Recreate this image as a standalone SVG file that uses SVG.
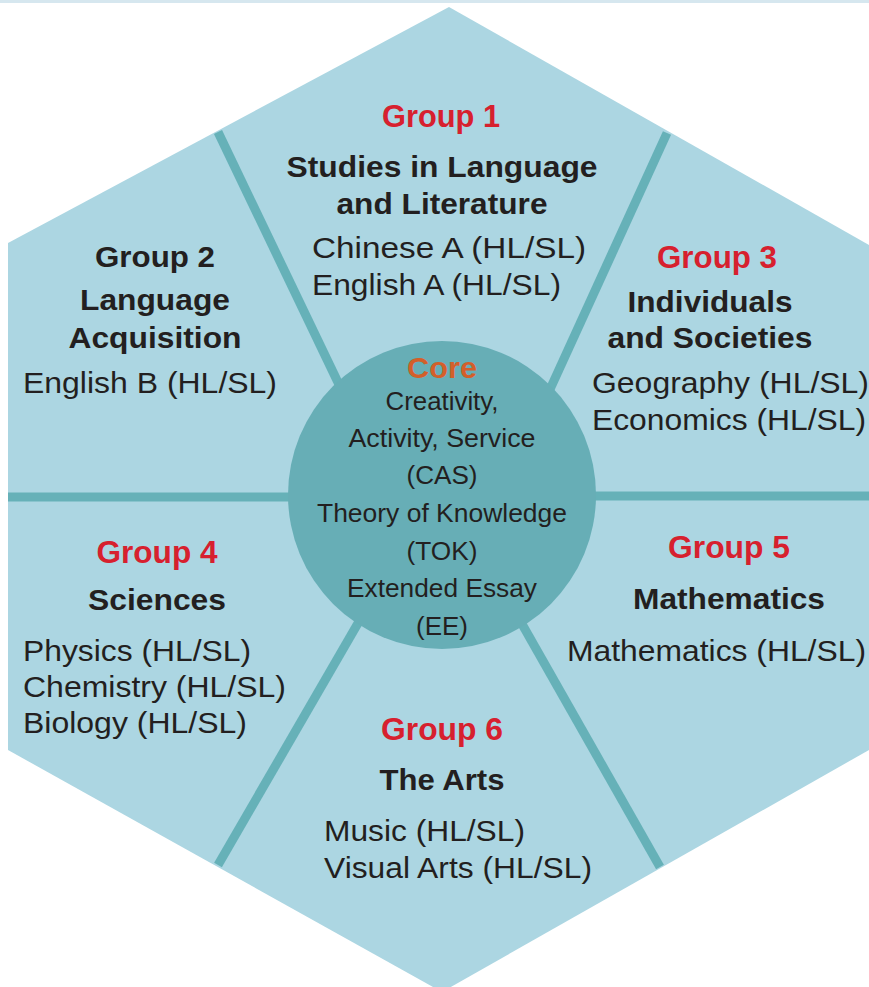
<svg xmlns="http://www.w3.org/2000/svg" width="869" height="987" viewBox="0 0 869 987">
<style>
text{font-family:"Liberation Sans",Arial,Helvetica,sans-serif;fill:#231f20}
.g{font-weight:bold;font-size:31px;fill:#d7202e;text-anchor:middle}
.h{font-weight:bold;font-size:29px;text-anchor:middle}
.i{font-size:30px}
.c{font-size:26px;text-anchor:middle}
.core{font-weight:bold;font-size:30px;fill:#d35f2a;text-anchor:middle}
.div{stroke:#66b1b8;stroke-width:9;fill:none}
</style>
<rect x="0" y="0" width="869" height="987" fill="#ffffff"/>
<rect x="0" y="0" width="869" height="3" fill="#d6e7ef"/>
<g id="hexagon">
<polygon points="8,243 449,7 869,245 869,750 442,992 8,750" fill="#acd6e2"/>
</g>
<g id="connectors">
<line class="div" x1="218" y1="132" x2="356" y2="420"/>
<line class="div" x1="667" y1="133" x2="536" y2="420"/>
<line class="div" x1="8" y1="497" x2="442" y2="497"/>
<line class="div" x1="869" y1="496" x2="442" y2="496"/>
<line class="div" x1="218" y1="865" x2="383" y2="580"/>
<line class="div" x1="660" y1="867" x2="497" y2="580"/>
</g>
<g id="core">
<circle cx="442" cy="495" r="154" fill="#67aeb6"/>
<text class="core" x="442" y="378" textLength="70" lengthAdjust="spacingAndGlyphs">Core</text>
<text class="c" x="442" y="410" textLength="113" lengthAdjust="spacingAndGlyphs">Creativity,</text>
<text class="c" x="442" y="447" textLength="187" lengthAdjust="spacingAndGlyphs">Activity, Service</text>
<text class="c" x="442" y="484" textLength="71" lengthAdjust="spacingAndGlyphs">(CAS)</text>
<text class="c" x="442" y="522" textLength="250" lengthAdjust="spacingAndGlyphs">Theory of Knowledge</text>
<text class="c" x="442" y="560" textLength="71" lengthAdjust="spacingAndGlyphs">(TOK)</text>
<text class="c" x="442" y="597" textLength="190" lengthAdjust="spacingAndGlyphs">Extended Essay</text>
<text class="c" x="442" y="635" textLength="52" lengthAdjust="spacingAndGlyphs">(EE)</text>
</g>
<g id="group1">
<text class="g" x="441" y="127" textLength="118" lengthAdjust="spacingAndGlyphs">Group 1</text>
<text class="h" x="442" y="177" textLength="311" lengthAdjust="spacingAndGlyphs">Studies in Language</text>
<text class="h" x="442" y="214" textLength="211" lengthAdjust="spacingAndGlyphs">and Literature</text>
<text class="i" x="312" y="258" textLength="274" lengthAdjust="spacingAndGlyphs">Chinese A (HL/SL)</text>
<text class="i" x="312" y="295" textLength="249" lengthAdjust="spacingAndGlyphs">English A (HL/SL)</text>
</g>
<g id="group2">
<text class="h" x="155" y="267" textLength="120" lengthAdjust="spacingAndGlyphs">Group 2</text>
<text class="h" x="155" y="310" textLength="150" lengthAdjust="spacingAndGlyphs">Language</text>
<text class="h" x="155" y="348" textLength="173" lengthAdjust="spacingAndGlyphs">Acquisition</text>
<text class="i" x="23" y="393" textLength="254" lengthAdjust="spacingAndGlyphs">English B (HL/SL)</text>
</g>
<g id="group3">
<text class="g" x="717" y="268" textLength="120" lengthAdjust="spacingAndGlyphs">Group 3</text>
<text class="h" x="710" y="312" textLength="165" lengthAdjust="spacingAndGlyphs">Individuals</text>
<text class="h" x="710" y="348" textLength="205" lengthAdjust="spacingAndGlyphs">and Societies</text>
<text class="i" x="592" y="393" textLength="277" lengthAdjust="spacingAndGlyphs">Geography (HL/SL)</text>
<text class="i" x="592" y="430" textLength="274" lengthAdjust="spacingAndGlyphs">Economics (HL/SL)</text>
</g>
<g id="group4">
<text class="g" x="157" y="563" textLength="121" lengthAdjust="spacingAndGlyphs">Group 4</text>
<text class="h" x="157" y="610" textLength="138" lengthAdjust="spacingAndGlyphs">Sciences</text>
<text class="i" x="23" y="661" textLength="228" lengthAdjust="spacingAndGlyphs">Physics (HL/SL)</text>
<text class="i" x="23" y="697" textLength="263" lengthAdjust="spacingAndGlyphs">Chemistry (HL/SL)</text>
<text class="i" x="23" y="733" textLength="224" lengthAdjust="spacingAndGlyphs">Biology (HL/SL)</text>
</g>
<g id="group5">
<text class="g" x="729" y="558" textLength="122" lengthAdjust="spacingAndGlyphs">Group 5</text>
<text class="h" x="729" y="609" textLength="192" lengthAdjust="spacingAndGlyphs">Mathematics</text>
<text class="i" x="567" y="661" textLength="299" lengthAdjust="spacingAndGlyphs">Mathematics (HL/SL)</text>
</g>
<g id="group6">
<text class="g" x="442" y="740" textLength="122" lengthAdjust="spacingAndGlyphs">Group 6</text>
<text class="h" x="442" y="790" textLength="125" lengthAdjust="spacingAndGlyphs">The Arts</text>
<text class="i" x="324" y="841" textLength="201" lengthAdjust="spacingAndGlyphs">Music (HL/SL)</text>
<text class="i" x="324" y="878" textLength="268" lengthAdjust="spacingAndGlyphs">Visual Arts (HL/SL)</text>
</g>
</svg>
